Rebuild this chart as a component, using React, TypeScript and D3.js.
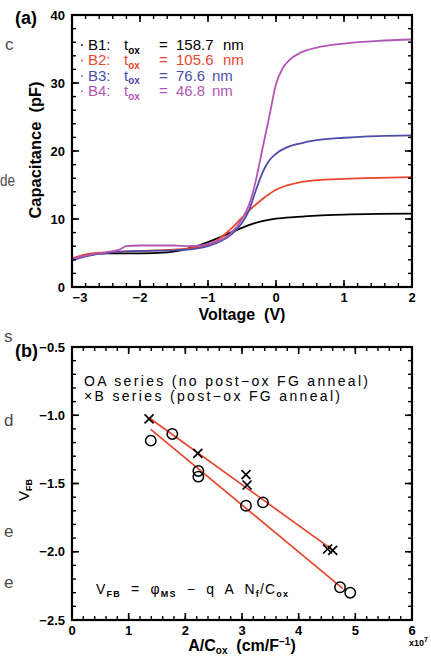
import React from "react";
import * as d3 from "d3";

// (a) C-V curves: [voltage, capacitance pF]
const b1Curve: [number, number][] = [
  [-3.0, 4.1], [-2.8, 4.6], [-2.5, 4.95], [-2.0, 4.95], [-1.6, 5.1], [-1.4, 5.4],
  [-1.2, 5.9], [-1.0, 6.6], [-0.8, 7.4], [-0.6, 8.3], [-0.4, 9.1], [-0.2, 9.7],
  [0, 10.05], [0.3, 10.3], [0.6, 10.5], [1.0, 10.65], [1.5, 10.75], [2.0, 10.8],
];
const b2Curve: [number, number][] = [
  [-3.0, 4.2], [-2.8, 4.8], [-2.5, 5.1], [-2.0, 5.3], [-1.5, 5.5], [-1.2, 5.8],
  [-1.0, 6.2], [-0.85, 7.0], [-0.7, 8.2], [-0.55, 9.7], [-0.4, 11.2], [-0.3, 12.1],
  [-0.15, 13.3], [0, 14.3], [0.15, 14.9], [0.35, 15.4], [0.6, 15.7], [1.0, 15.9],
  [1.5, 16.05], [2.0, 16.15],
];
const b3Curve: [number, number][] = [
  [-3.0, 3.9], [-2.8, 4.5], [-2.5, 5.0], [-2.0, 5.3], [-1.5, 5.4], [-1.2, 5.6],
  [-1.0, 6.0], [-0.8, 6.8], [-0.65, 7.8], [-0.5, 9.4], [-0.4, 11.2], [-0.3, 14.1],
  [-0.2, 16.8], [-0.1, 18.6], [0, 19.6], [0.15, 20.5], [0.35, 21.1], [0.6, 21.6],
  [1.0, 21.95], [1.5, 22.2], [2.0, 22.3],
];
const b4Curve: [number, number][] = [
  [-3.0, 4.1], [-2.8, 4.6], [-2.5, 5.1], [-2.3, 5.5], [-2.2, 6.0], [-2.0, 6.1],
  [-1.5, 6.1], [-1.3, 6.0], [-1.1, 6.1], [-0.9, 6.6], [-0.7, 7.6], [-0.6, 8.6],
  [-0.5, 10.0], [-0.4, 12.0], [-0.3, 15.5], [-0.2, 20.3], [-0.1, 25.0], [0, 29.8],
  [0.1, 32.2], [0.2, 33.4], [0.35, 34.4], [0.6, 35.2], [1.0, 35.8], [1.5, 36.2],
  [2.0, 36.4],
];
const seriesNames = ["B1", "B2", "B3", "B4"];
const toxValues = ["158.7", "105.6", "76.6", "46.8"];
const seriesColors = ["#000000", "#e8472e", "#4c4ca8", "#b456b4"];

// (b) flat-band voltage vs A/Cox (x in 1e7 cm/F^-1)
const aSeries: [number, number][] = [
  [1.39, -1.186], [1.77, -1.137], [2.23, -1.408], [2.23, -1.45],
  [3.07, -1.663], [3.37, -1.638], [4.73, -2.26], [4.91, -2.3],
];
const bSeries: [number, number][] = [
  [1.36, -1.027], [2.22, -1.279], [3.07, -1.435], [3.09, -1.511],
  [4.51, -1.98], [4.6, -1.99],
];
const fitB: [number, number][] = [[1.36, -1.018], [4.61, -1.99]];
const fitA: [number, number][] = [[1.39, -1.103], [4.78, -2.27]];

const FONT = "'Liberation Sans', Arial, sans-serif";
const W = 431;
const H = 659;
const pre = { whiteSpace: "pre" } as React.CSSProperties;

type Scale = d3.ScaleLinear<number, number>;

function Frame({ x, y, xMajor, xMinor, yMajor, yMinor, xFmt, yFmt }: {
  x: Scale; y: Scale; xMajor: number; xMinor: number; yMajor: number; yMinor: number;
  xFmt: (n: number) => string; yFmt: (n: number) => string;
}) {
  const [x0, x1] = x.range();
  const [y0, y1] = y.range(); // y0 bottom, y1 top
  const maj = 7;
  const min = 4;
  const xT = x.ticks(xMajor);
  const yT = y.ticks(yMajor);
  const xm = x.ticks(xMinor);
  const ym = y.ticks(yMinor);
  return (
    <g>
      {xm.map((t, i) => (
        <g key={"xm" + i} stroke="#000" strokeWidth={1.4}>
          <line x1={x(t)} x2={x(t)} y1={y0} y2={y0 - min} />
          <line x1={x(t)} x2={x(t)} y1={y1} y2={y1 + min} />
        </g>
      ))}
      {ym.map((t, i) => (
        <g key={"ym" + i} stroke="#000" strokeWidth={1.4}>
          <line x1={x0} x2={x0 + min} y1={y(t)} y2={y(t)} />
          <line x1={x1} x2={x1 - min} y1={y(t)} y2={y(t)} />
        </g>
      ))}
      {xT.map((t, i) => (
        <g key={"xt" + i}>
          <line x1={x(t)} x2={x(t)} y1={y0} y2={y0 - maj} stroke="#000" strokeWidth={1.6} />
          <line x1={x(t)} x2={x(t)} y1={y1} y2={y1 + maj} stroke="#000" strokeWidth={1.6} />
          <text x={x(t) + (i === 0 && xFmt(t).length > 1 ? 8 : 0)} y={y0 + 15} textAnchor="middle"
            fontSize={13} fontWeight="bold" fontFamily={FONT}>{xFmt(t)}</text>
        </g>
      ))}
      {yT.map((t, i) => (
        <g key={"yt" + i}>
          <line x1={x0} x2={x0 + maj} y1={y(t)} y2={y(t)} stroke="#000" strokeWidth={1.6} />
          <line x1={x1} x2={x1 - maj} y1={y(t)} y2={y(t)} stroke="#000" strokeWidth={1.6} />
          <text x={x0 - 7} y={y(t) + 4.5} textAnchor="end"
            fontSize={13} fontWeight="bold" fontFamily={FONT}>{yFmt(t)}</text>
        </g>
      ))}
      <rect x={x0} y={y1} width={x1 - x0} height={y0 - y1} fill="none" stroke="#000" strokeWidth={2.2} />
    </g>
  );
}

export default function App() {
  const xA = d3.scaleLinear().domain([-3, 2]).range([72, 412]);
  const yA = d3.scaleLinear().domain([0, 40]).range([287, 15]);
  const xB = d3.scaleLinear().domain([0, 6]).range([72, 412]);
  const yB = d3.scaleLinear().domain([-2.5, -0.5]).range([620, 347]);

  const lineA = d3.line<[number, number]>()
    .x((d) => xA(d[0]))
    .y((d) => yA(d[1]))
    .curve(d3.curveMonotoneX);
  const lineB = d3.line<[number, number]>()
    .x((d) => xB(d[0]))
    .y((d) => yB(d[1]));

  const curves = [b1Curve, b2Curve, b3Curve, b4Curve];
  const fmtInt = d3.format("d");
  const fmt1 = d3.format(".1f");
  const cross = 4.5;

  return (
    <svg width={W} height={H} viewBox={`0 0 ${W} ${H}`}
      style={{ position: "absolute", left: 0, top: 0, background: "#fff" }}>
      <rect width={W} height={H} fill="#fff" />

      {/* page text cut off at the left edge */}
      <g fontFamily={FONT} fontSize={17} fill="#4a4a4a">
        <text x={5} y={50}>c</text>
        <text x={0} y={186} textLength={15} lengthAdjust="spacingAndGlyphs">de</text>
        <text x={4} y={342}>s</text>
        <text x={4} y={426}>d</text>
        <text x={4} y={537}>e</text>
        <text x={4} y={588}>e</text>
      </g>

      {/* ---------- (a) ---------- */}
      <text x={15} y={24} fontFamily={FONT} fontSize={18} fontWeight="bold">(a)</text>
      {curves.map((c, i) => (
        <path key={i} d={lineA(c) ?? ""} fill="none" stroke={seriesColors[i]} strokeWidth={1.8} />
      ))}
      <Frame x={xA} y={yA} xMajor={5} xMinor={25} yMajor={4} yMinor={20} xFmt={fmtInt} yFmt={fmtInt} />
      <g fontFamily={FONT} fontSize={15}>
        {seriesNames.map((s, i) => {
          const yy = 50 + i * 15.4;
          return (
            <g key={s} fill={seriesColors[i]}>
              <circle cx={82} cy={yy - 5} r={0.9} />
              <text x={88} y={yy}>{s}:</text>
              <text x={124} y={yy}>t<tspan dy={3.5} fontSize={10} fontWeight="bold">ox</tspan></text>
              <text x={159} y={yy}>=</text>
              <text x={176} y={yy}>{toxValues[i]}</text>
              <text x={toxValues[i].length > 4 ? 223 : 212} y={yy}>nm</text>
            </g>
          );
        })}
      </g>
      <text x={242} y={320} textAnchor="middle" fontFamily={FONT} fontSize={16} fontWeight="bold" style={pre}>Voltage  (V)</text>
      <text transform="translate(41,150) rotate(-90)" textAnchor="middle" fontFamily={FONT} style={pre}
        fontSize={16} fontWeight="bold" textLength={137} lengthAdjust="spacingAndGlyphs">Capacitance  (pF)</text>

      {/* ---------- (b) ---------- */}
      <text x={15} y={357} fontFamily={FONT} fontSize={18} fontWeight="bold">(b)</text>
      <path d={lineB(fitB) ?? ""} stroke="#e8472e" strokeWidth={1.7} fill="none" />
      <path d={lineB(fitA) ?? ""} stroke="#e8472e" strokeWidth={1.7} fill="none" />
      {aSeries.map((d, i) => (
        <circle key={"a" + i} cx={xB(d[0])} cy={yB(d[1])} r={5.2} fill="none" stroke="#000" strokeWidth={1.5} />
      ))}
      {bSeries.map((d, i) => (
        <path key={"b" + i}
          d={`M${xB(d[0]) - cross},${yB(d[1]) - cross}L${xB(d[0]) + cross},${yB(d[1]) + cross}M${xB(d[0]) - cross},${yB(d[1]) + cross}L${xB(d[0]) + cross},${yB(d[1]) - cross}`}
          stroke="#000" strokeWidth={1.7} />
      ))}
      <Frame x={xB} y={yB} xMajor={6} xMinor={30} yMajor={4} yMinor={20} xFmt={fmtInt} yFmt={fmt1} />
      <g fontFamily={FONT} fontSize={14} style={pre}>
        <text x={84} y={386} textLength={284} lengthAdjust="spacing">OA series  (no  post−ox  FG  anneal)</text>
        <text x={84} y={401} textLength={256} lengthAdjust="spacing">×B series  (post−ox  FG  anneal)</text>
      </g>
      <text x={96} y={594} fontFamily={FONT} fontSize={14} style={pre} textLength={192} lengthAdjust="spacing">
        V<tspan dy={3} fontSize={9} fontWeight="bold">FB</tspan>
        <tspan dy={-3}>{"  =  "}</tspan>φ<tspan dy={3} fontSize={9} fontWeight="bold">MS</tspan>
        <tspan dy={-3}>{"  −  q  A  N"}</tspan><tspan dy={3} fontSize={9} fontWeight="bold">f</tspan>
        <tspan dy={-3}>/C</tspan><tspan dy={3} fontSize={9} fontWeight="bold">ox</tspan>
      </text>
      <text transform="translate(29,490) rotate(-90)" textAnchor="middle" fontFamily={FONT} fontSize={15}>
        V<tspan dy={3} fontSize={9} fontWeight="bold">FB</tspan>
      </text>
      <text x={242} y={651} textAnchor="middle" fontFamily={FONT} fontSize={16} fontWeight="bold" style={pre}>
        A/C<tspan dy={3} fontSize={10}>ox</tspan><tspan dy={-3}>{"  (cm/F"}</tspan>
        <tspan dy={-6} fontSize={10}>−1</tspan><tspan dy={6}>)</tspan>
      </text>
      <text x={409} y={646} fontFamily={FONT} fontSize={9} fontWeight="bold">
        x10<tspan dy={-4} fontSize={7}>7</tspan>
      </text>
    </svg>
  );
}
